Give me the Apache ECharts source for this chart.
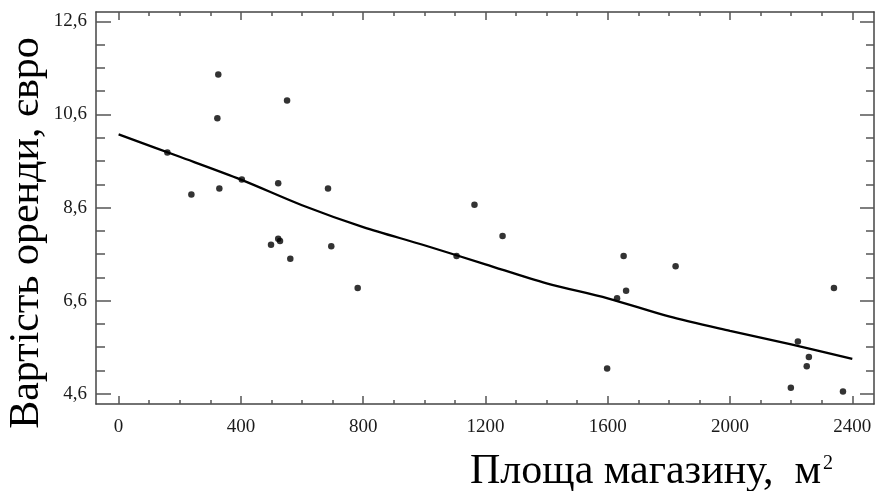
<!DOCTYPE html>
<html>
<head>
<meta charset="utf-8">
<script src="https://cdn.jsdelivr.net/npm/echarts@6/dist/echarts.min.js"></script>
<style>html,body{margin:0;padding:0;background:#fff;}#c{width:875px;height:491px;}</style>
</head>
<body>
<div id="c"></div>
<script>
// Observed points: shop area (m²) and rent (euro)
var areaValues = [159.5, 238, 326, 323, 329.5, 403, 522, 551, 498.5, 522, 528, 561.6, 685, 695.6, 782, 1105.5, 1164, 1256, 1598, 1630.5, 1652, 1660, 1822, 2199, 2222, 2251, 2258, 2340, 2369.5];
var rentValues = [9.78, 8.88, 11.46, 10.52, 9.01, 9.20, 9.12, 10.90, 7.80, 7.93, 7.88, 7.50, 9.01, 7.77, 6.87, 7.56, 8.66, 7.99, 5.14, 6.65, 7.56, 6.81, 7.34, 4.73, 5.72, 5.19, 5.39, 6.87, 4.65];
// Fitted curve
var fitX = [0, 200, 400, 600, 800, 1000, 1200, 1400, 1600, 1800, 2000, 2200, 2400];
var fitY = [10.17, 9.69, 9.20, 8.65, 8.18, 7.79, 7.38, 6.97, 6.65, 6.26, 5.95, 5.66, 5.35];
// Ticks
var xMajorTicks = [0, 400, 800, 1200, 1600, 2000, 2400];
var xMinorTicks = [100, 200, 300, 500, 600, 700, 900, 1000, 1100, 1300, 1400, 1500, 1700, 1800, 1900, 2100, 2200, 2300];
var yMajorTicks = [4.6, 6.6, 8.6, 10.6, 12.6];
var yMinorTicks = [5.1, 5.6, 6.1, 7.1, 7.6, 8.1, 9.1, 9.6, 10.1, 11.1, 11.6, 12.1];
var xTitle = 'Площа магазину,  м';
var xTitleSup = '2';
var yTitle = 'Вартість оренди, євро';

var FONT = '"Liberation Serif", "Times New Roman", serif';
var X_MIN = -74, X_MAX = 2471, Y_MIN = 4.38, Y_MAX = 12.8;
var AXIS_COLOR = '#444';
var TICK_COLOR = '#555';

function xAx(pos, values, len, showLine, showLabel) {
  return {
    type: 'value', position: pos, min: X_MIN, max: X_MAX,
    splitLine: {show: false},
    axisLine: {show: showLine, onZero: false, lineStyle: {color: AXIS_COLOR, width: 1.5}},
    axisTick: {show: true, inside: true, length: len, customValues: values, lineStyle: {color: TICK_COLOR, width: 1.5}},
    axisLabel: showLabel ? {show: true, customValues: values, margin: 14, color: '#1a1a1a', fontFamily: FONT, fontSize: 19,
      formatter: function (v) { return String(v); }} : {show: false}
  };
}
function yAx(pos, values, len, showLine, showLabel) {
  return {
    type: 'value', position: pos, min: Y_MIN, max: Y_MAX,
    splitLine: {show: false},
    axisLine: {show: showLine, onZero: false, lineStyle: {color: AXIS_COLOR, width: 1.5}},
    axisTick: {show: true, inside: true, length: len, customValues: values, lineStyle: {color: TICK_COLOR, width: 1.5}},
    axisLabel: showLabel ? {show: true, customValues: values, margin: 9, color: '#1a1a1a', fontFamily: FONT, fontSize: 19,
      formatter: function (v) { return String(v).replace('.', ','); }} : {show: false}
  };
}

var scatterData = areaValues.map(function (x, i) { return [x, rentValues[i]]; });
var fitData = fitX.map(function (x, i) { return [x, fitY[i]]; });

var chart = echarts.init(document.getElementById('c'), null, {renderer: 'canvas'});
chart.setOption({
  backgroundColor: '#fff',
  animation: false,
  grid: {left: 96, right: 1, top: 12, bottom: 87, containLabel: false},
  xAxis: [
    xAx('bottom', xMajorTicks, 8, true, true),
    xAx('bottom', xMinorTicks, 4, false, false),
    xAx('top', xMajorTicks, 8, true, false),
    xAx('top', xMinorTicks, 4, false, false)
  ],
  yAxis: [
    yAx('left', yMajorTicks, 15, true, true),
    yAx('left', yMinorTicks, 9, false, false),
    yAx('right', yMajorTicks, 14, true, false),
    yAx('right', yMinorTicks, 8, false, false)
  ],
  series: [
    {
      type: 'line', xAxisIndex: 0, yAxisIndex: 0, data: fitData,
      showSymbol: false, smooth: 0.3,
      lineStyle: {color: '#000', width: 2.3}
    },
    {
      type: 'scatter', xAxisIndex: 0, yAxisIndex: 0, data: scatterData,
      symbol: 'circle', symbolSize: 6.5,
      itemStyle: {color: '#000'}
    }
  ],
  graphic: [
    {
      type: 'text', left: 470, top: 451,
      style: {
        text: '{a|' + xTitle + '}{b|' + xTitleSup + '}',
        rich: {
          a: {fontFamily: FONT, fontSize: 42, fill: '#000'},
          b: {fontFamily: FONT, fontSize: 20, fill: '#000', verticalAlign: 'top', padding: [3, 0, 0, 2]}
        }
      }
    },
    {
      type: 'text', x: 27, y: 233, rotation: Math.PI / 2,
      style: {
        text: yTitle, fontFamily: FONT, fontSize: 42, fill: '#000',
        align: 'center', verticalAlign: 'middle'
      }
    }
  ]
});
</script>
</body>
</html>
